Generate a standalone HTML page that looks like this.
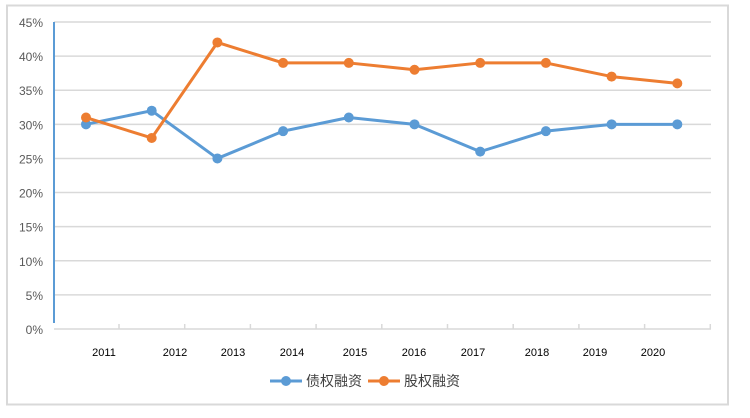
<!DOCTYPE html>
<html><head><meta charset="utf-8"><style>
body{margin:0;background:#fff;}
svg text{font-family:"Liberation Sans","Noto Sans CJK SC",sans-serif;}
</style></head><body>
<svg width="750" height="413">
<rect x="7" y="5.5" width="721" height="399" fill="#fff" stroke="#d9d9d9" stroke-width="2"/>
<g id="grid"></g><g id="plot"></g>
<g>
<line x1="270" y1="381" x2="302" y2="381" stroke="#5b9bd5" stroke-width="3"/><circle cx="286" cy="381" r="5" fill="#5b9bd5"/>
<text x="306" y="386" font-size="14" fill="#404040">债权融资</text>
<line x1="368" y1="381" x2="400" y2="381" stroke="#ed7d31" stroke-width="3"/><circle cx="384" cy="381" r="5" fill="#ed7d31"/>
<text x="404" y="386" font-size="14" fill="#404040">股权融资</text>
</g>
</svg>
<script>
const categories=["2011","2012","2013","2014","2015","2016","2017","2018","2019","2020"];
const debt=[30,32,25,29,31,30,26,29,30,30];
const equity=[31,28,42,39,39,38,39,39,37,36];
const yTicks=[0,5,10,15,20,25,30,35,40,45];
const labelX=[104,175,233,292,355,414,473,537,595,653];
const NS="http://www.w3.org/2000/svg";
const x0=54,x1=711,y0=329,yTop=22;
const y=v=>y0-(v/45)*(y0-yTop);
const x=i=>86+i*65.7;
const g=document.getElementById('grid'),p=document.getElementById('plot');
function mk(tag,attrs,parent){const e=document.createElementNS(NS,tag);for(const k in attrs)e.setAttribute(k,attrs[k]);parent.appendChild(e);return e;}
yTicks.forEach(t=>{
  const l=mk('line',{x1:x0,x2:x1,y1:y(t),y2:y(t),stroke:'#d9d9d9','stroke-width':1.5},g);
  
  
  const tx=mk('text',{x:43,y:y(t)+5,'text-anchor':'end','font-size':12,fill:'#595959'},g);
  tx.textContent=t+'%';
  
  
});
const ax=mk('line',{x1:x0,x2:x0,y1:yTop,y2:y0-6,stroke:'#5b9bd5','stroke-width':2},g);


for(let i=0;i<10;i++){
  const tk=mk('line',{x1:119+i*65.7,x2:119+i*65.7,y1:y0-5,y2:y0,stroke:'#d9d9d9','stroke-width':1.5},g);
  
  
}
categories.forEach((c,i)=>{
  const tx=mk('text',{x:labelX[i],y:356,'text-anchor':'middle','font-size':11,fill:'#000'},g);
  tx.textContent=c;
  
  
});
function series(vals,color,name){
  const pl=mk('polyline',{points:vals.map((v,i)=>x(i)+','+y(v)).join(' '),fill:'none',stroke:color,'stroke-width':3,'stroke-linejoin':'round'},p);
  
  
  vals.forEach((v,i)=>{
    const c=mk('circle',{cx:x(i),cy:y(v),r:5,fill:color},p);
    
    
  });
}
series(debt,'#5b9bd5','debt');
series(equity,'#ed7d31','equity');
</script>
</body></html>
